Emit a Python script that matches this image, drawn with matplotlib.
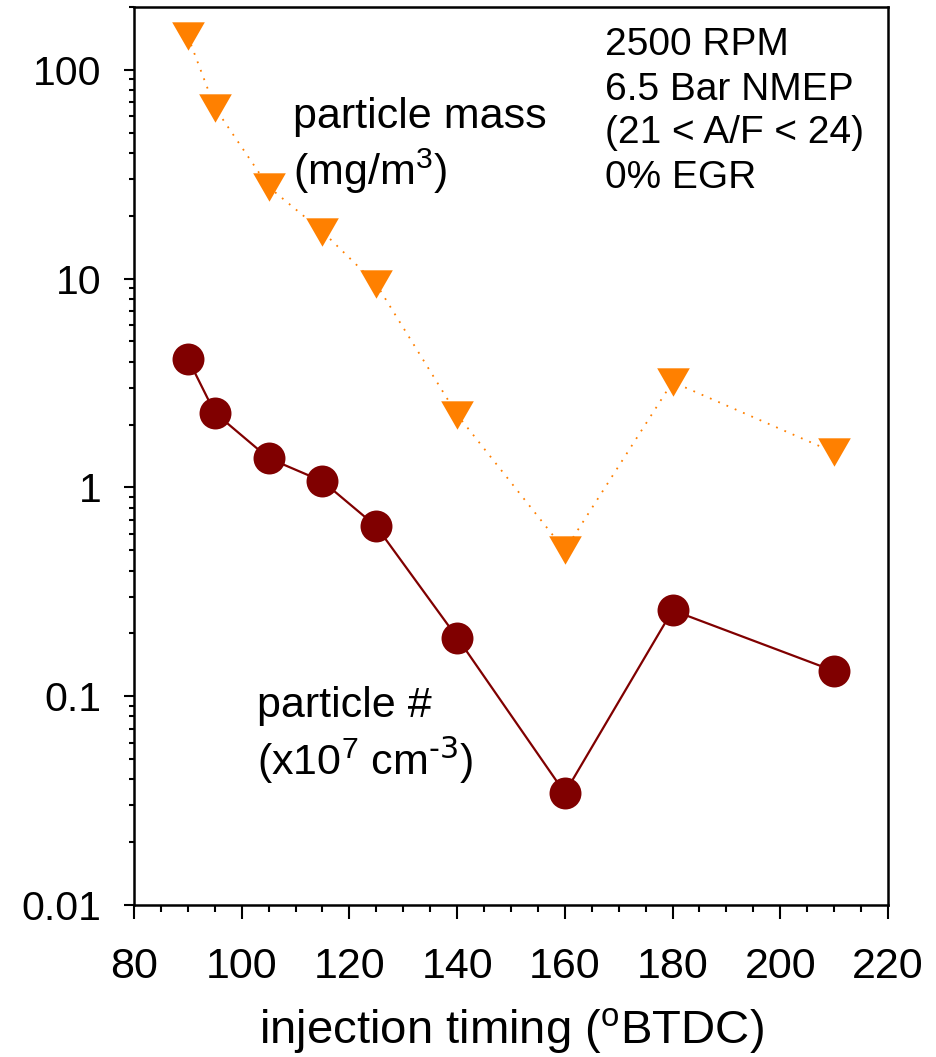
import matplotlib
matplotlib.use("Agg")
import matplotlib.pyplot as plt
from matplotlib.ticker import MultipleLocator, LogLocator, NullFormatter

plt.rcParams['font.family'] = ['Liberation Sans', 'DejaVu Sans']
plt.rcParams['mathtext.default'] = 'regular'

# injection timing (deg BTDC)
timing = [90, 95, 105, 115, 125, 140, 160, 180, 210]
# particle mass, mg/m^3
mass = [145, 66, 27.5, 16.8, 9.4, 2.23, 0.50, 3.2, 1.47]
# particle number, x1e7 cm^-3
number = [4.14, 2.28, 1.38, 1.07, 0.65, 0.191, 0.0344, 0.258, 0.132]

ytick_vals = [0.01, 0.1, 1, 10, 100]
ytick_labels = ['0.01', '0.1', '1', '10', '100']
xtick_vals = [80, 100, 120, 140, 160, 180, 200, 220]

conditions = ['2500 RPM', '6.5 Bar NMEP', '(21 < A/F < 24)', '0% EGR']

fig = plt.figure(figsize=(9.37, 10.57), dpi=100)
ax = fig.add_axes([0.143, 0.1438, 0.8047, 0.8496])

tri = [(-1, 0.87), (1, 0.87), (0, -0.87)]
ax.plot(timing, mass, color='#FF8000', lw=1.3, ls=(0, (1, 4)),
        marker=tri, ms=23.5, mec='none', mfc='#FF8000')
ax.plot(timing, number, color='#800000', lw=1.6,
        marker='o', ms=23, mec='none', mfc='#800000')

ax.set_yscale('log')
ax.set_ylim(0.01, 200)
ax.set_xlim(80, 220)

ax.set_yticks(ytick_vals)
ax.set_yticklabels(ytick_labels)
ax.yaxis.set_minor_locator(LogLocator(base=10, subs=range(2, 10)))
ax.yaxis.set_minor_formatter(NullFormatter())
ax.set_xticks(xtick_vals)
ax.xaxis.set_minor_locator(MultipleLocator(5))

for s in ax.spines.values():
    s.set_linewidth(1.8)

ax.tick_params(axis='y', which='major', direction='out', length=7.5, width=1.5,
               labelsize=29.5, pad=16)
ax.tick_params(axis='y', which='minor', direction='out', length=3.8, width=1.5)
ax.tick_params(axis='x', which='major', direction='out', length=10, width=1.5,
               labelsize=31, pad=20)
ax.tick_params(axis='x', which='minor', direction='out', length=5, width=1.5)

ax.set_xlabel('injection timing ($^o$BTDC)', fontsize=34, labelpad=14)

ax.text(0.211, 0.865, 'particle mass', transform=ax.transAxes,
        fontsize=31, va='baseline')
ax.text(0.211, 0.802, '(mg/m$^3$)', transform=ax.transAxes,
        fontsize=31, va='baseline')
ax.text(0.163, 0.209, 'particle #', transform=ax.transAxes,
        fontsize=31, va='baseline')
ax.text(0.163, 0.145, r'(x10$^7$ cm$^{\text{-3}}$)', transform=ax.transAxes,
        fontsize=31, va='baseline')

cond_y = [0.9465, 0.8964, 0.8486, 0.7984]
for txt, yy in zip(conditions, cond_y):
    ax.text(0.625, yy, txt, transform=ax.transAxes, fontsize=28, va='baseline')

fig.savefig('out.png', dpi=100)
